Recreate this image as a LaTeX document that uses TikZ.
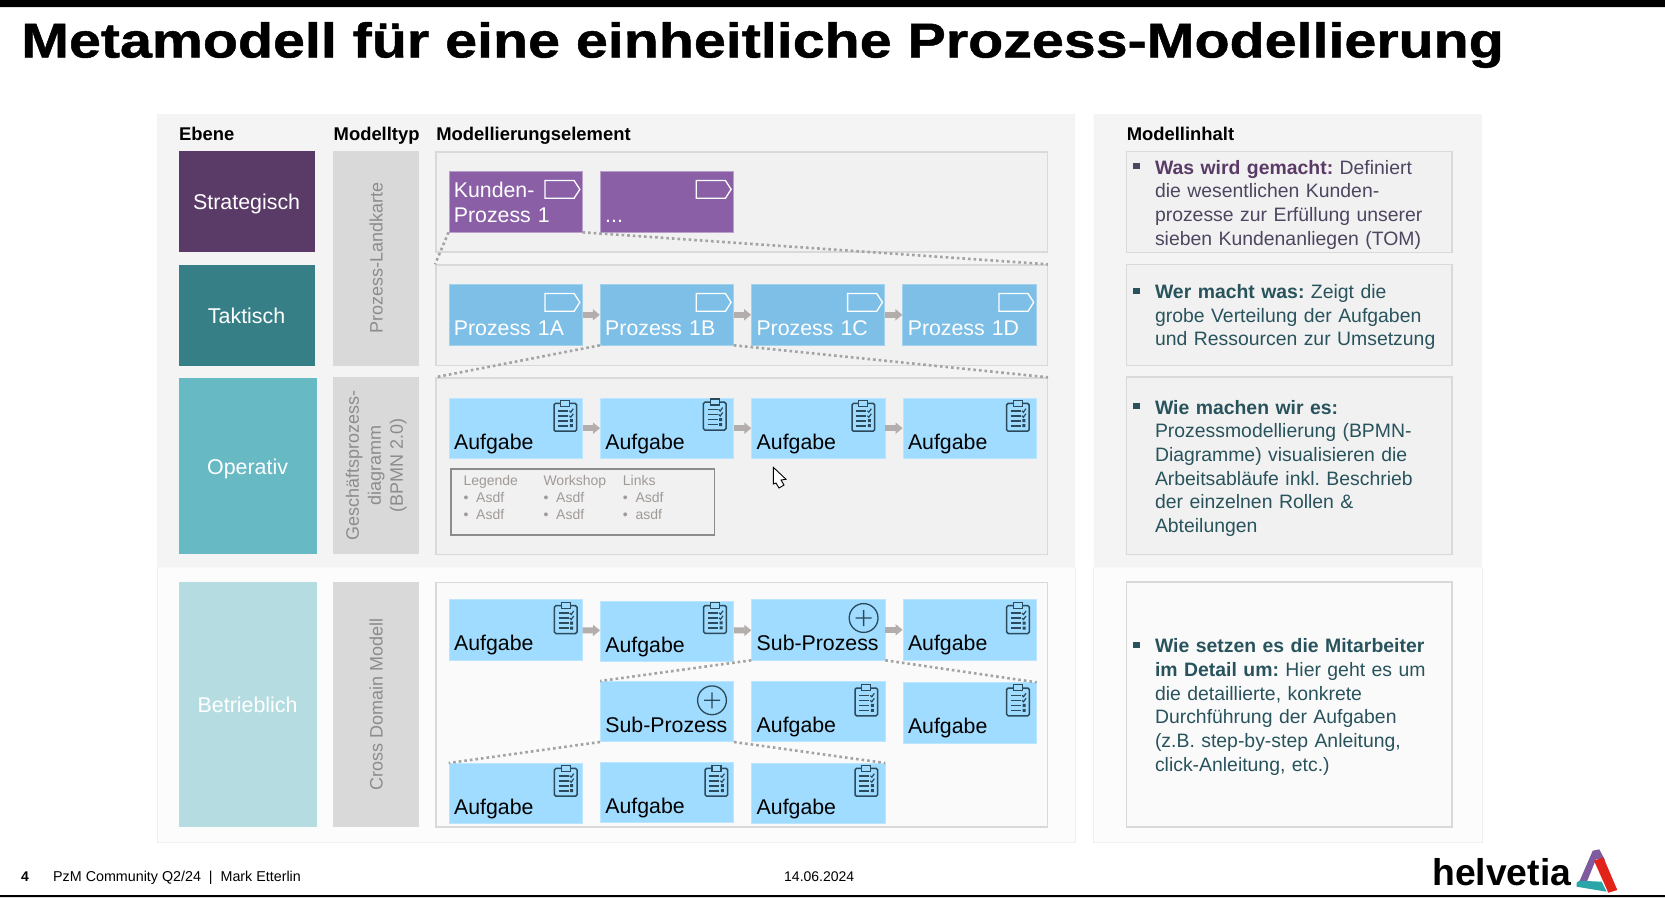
\documentclass[tikz,border=0pt]{standalone}
\usepackage{fontspec}
\setmainfont{Liberation Sans}
\newfontfamily\ttlfont[FakeStretch=1.171, FakeBold=1]{Liberation Sans}
\usetikzlibrary{positioning, arrows.meta}
\definecolor{panelc}{HTML}{F4F4F4}
\definecolor{framec}{HTML}{F1F1F1}
\definecolor{lineC}{HTML}{D9D9D9}
\definecolor{stratc}{HTML}{5A3A66}
\definecolor{taktc}{HTML}{377F87}
\definecolor{opc}{HTML}{67B9C4}
\definecolor{betrc}{HTML}{B5DDE1}
\definecolor{kundc}{HTML}{8A5FA6}
\definecolor{prozc}{HTML}{7DBFE6}
\definecolor{taskc}{HTML}{9FDCFF}
\definecolor{iconc}{HTML}{2B4A5C}
\definecolor{txtP}{HTML}{4E4560}
\definecolor{txtT}{HTML}{28535C}
\definecolor{flowc}{HTML}{B3AEAB}
\definecolor{lgc}{HTML}{A09A97}
\definecolor{logoP}{HTML}{7F5A9E}
\definecolor{logoT}{HTML}{2AA5A8}
\definecolor{logoR}{HTML}{E2231A}
\frenchspacing
\newcommand{\fs}[2]{\fontsize{#1}{#2}\selectfont}
\newcommand{\bul}{\llap{\raisebox{4.7pt}{\rule{6.8pt}{6pt}}\hspace{15.5pt}}}
\newcommand{\lgi}[1]{\makebox[12.7pt][l]{•}#1}

\begin{document}
\begin{tikzpicture}[x=1pt, y=-1pt, node distance=17.3pt,
	hdr/.style={anchor=base west, inner sep=0pt, font=\fs{18.4}{21}\bfseries},
	lvl/.style={anchor=north west, minimum width=136pt, inner sep=0pt, text=white, text height=16.5pt, text depth=0pt, font=\fs{21.4}{25}},
	typ/.style={fill=lineC, rotate=90, minimum height=86.3pt, inner sep=0pt, text=black!45, align=center, font=\fs{18}{22}},
	frm/.style={anchor=north west, draw=lineC, fill=framec, line width=1.5pt, inner sep=0pt},
	elt/.style={minimum width=133.2pt, minimum height=60.2pt, inner xsep=5pt, inner ysep=0pt, text width=123.2pt, align=left, text height=51.2pt, text depth=9pt, font=\fs{21.3}{25}},
	kund/.style={elt, fill=kundc, draw=kundc!60!white, line width=.8pt, text=white},
	proz/.style={elt, fill=prozc, draw=prozc!70!white, line width=.8pt, text=white},
	task/.style={elt, fill=taskc, draw=taskc!70!white, line width=.8pt, text=black},
	flow/.style={draw=flowc, line width=6pt, -{Triangle[length=7pt, width=11pt]}},
	zoomln/.style={draw=black!36, line width=2.6pt, dash pattern=on 2.6pt off 3pt},
	infotx/.style={anchor=base west, inner sep=0pt, text width=295pt, align=left, font=\fs{19.4}{23.7}},
	lgtx/.style={anchor=base west, inner sep=0pt, text width=76pt, align=left, text=lgc, font=\fs{14}{17}},
	foot/.style={anchor=base west, inner sep=0pt, font=\fs{14.3}{17}},
	prcicon/.pic={\draw[white, line width=1.3pt] (-37.5,9.2) -- (-8.4,9.2) -- (-2.7,18) -- (-8.4,27) -- (-37.5,27) -- cycle;},
	plusicon/.pic={\draw[iconc, line width=1.3pt] (0,0) circle (14.4pt) (-8,0) -- (8,0) (0,-8) -- (0,8);},
	cbicon/.pic={\draw[iconc, line width=1.5pt, rounded corners=1.5pt] (-11.3,-12.3) rectangle (11.3,15.5);
		\draw[iconc, fill=taskc, line width=1.3pt] (-4.5,-15.5) rectangle (4.5,-9.5);
		\draw[iconc, line width=1.6pt] (-7,-5) -- (3,-5) (-7,0) -- (3,0) (-7,5) -- (3,5) (-7,10) -- (3,10);
		\draw[iconc, line width=1.2pt] (4,-5) -- (5.5,-3.5) -- (8,-7) (4,0) -- (5.5,1.5) -- (8,-2);
		\fill[iconc] (4.5,3.5) rectangle (7.5,6.5) (4.5,8.5) rectangle (7.5,11.5);}]
	\useasboundingbox (0,0) rectangle (1665,897);
	\fill[black] (0,0) rectangle (1665,7) (0,895) rectangle (1665,897);
	\node[anchor=base west, inner sep=0pt, font=\fs{49}{55}\ttlfont\bfseries] (title) at (21,57.5) {Metamodell für eine einheitliche Prozess-Modellierung};
	\fill[panelc] (157,114) rectangle (1075,567.5) (1093.6,114) rectangle (1481.8,567.5);
	\draw[black!6, fill=black!1] (157,567.5) -- (157,841.7) -- (1075,841.7) -- (1075,567.5);
	\draw[black!6, fill=black!1] (1093.6,567.5) -- (1093.6,841.7) -- (1481.8,841.7) -- (1481.8,567.5);
	\node[hdr] (hE) at (179,140) {Ebene};
	\node[hdr] (hT) at (333.5,140) {Modelltyp};
	\node[hdr] (hM) at (436.2,140) {Modellierungselement};
	\node[hdr] (hI) at (1126.6,140) {Modellinhalt};
	\node[lvl, fill=stratc, minimum height=101pt] (Ls) at (178.4,151) {Strategisch};
	\node[lvl, fill=taktc, minimum height=101.4pt] (Lt) at (178.4,264.3) {Taktisch};
	\node[lvl, fill=opc, minimum width=138pt, minimum height=176.7pt] (Lo) at (178.4,377.3) {Operativ};
	\node[lvl, fill=betrc, minimum width=138pt, minimum height=245pt] (Lb) at (178.4,581.7) {Betrieblich};
	\node[typ, minimum width=214.7pt] (Ta) at (376.2,258.3) {Prozess-Landkarte};
	\node[typ, minimum width=176.7pt] (Tb) at (376.2,465.6) {Geschäftsprozess-\\diagramm\\(BPMN 2.0)};
	\node[typ, minimum width=245pt] (Tc) at (376.2,704.2) {Cross Domain Modell};
	\node[frm, minimum width=611.5pt, minimum height=100pt] (Fs) at (435,151) {};
	\node[frm, minimum width=611.5pt, minimum height=100.5pt] (Ft) at (435,264.3) {};
	\node[frm, minimum width=611.5pt, minimum height=176.5pt] (Fo) at (435,377.3) {};
	\node[frm, fill=black!2, minimum width=611.5pt, minimum height=244.5pt] (Fb) at (435,581.7) {};
	\node[kund, anchor=north west, text height=25.9pt, text depth=34.3pt] (K1) at (448.5,171.3) {Kunden-\\Prozess 1};
	\node[kund, right=of K1] (K2) {...};
	\node[proz, anchor=north west] (P1) at (448.5,284.3) {Prozess 1A};
	\node[proz, right=of P1] (P2) {Prozess 1B};
	\node[proz, right=of P2] (P3) {Prozess 1C};
	\node[proz, right=of P3] (P4) {Prozess 1D};
	\node[task, anchor=north west] (C1) at (448.7,397.7) {Aufgabe};
	\node[task, right=of C1] (C2) {Aufgabe};
	\node[task, right=of C2] (C3) {Aufgabe};
	\node[task, right=of C3] (C4) {Aufgabe};
	\node[task, anchor=north west] (D1) at (448.7,599.3) {Aufgabe};
	\node[task, right=of D1, yshift=-1.2pt] (D2) {Aufgabe};
	\node[task, right=of D2, yshift=1.2pt] (D3) {Sub-Prozess};
	\node[task, right=of D3] (D4) {Aufgabe};
	\node[task, anchor=north west] (E2) at (600,681) {Sub-Prozess};
	\node[task, right=of E2] (E3) {Aufgabe};
	\node[task, right=of E3, yshift=-1.3pt] (E4) {Aufgabe};
	\node[task, anchor=north west] (F1) at (448.7,763) {Aufgabe};
	\node[task, right=of F1, yshift=1pt] (F2) {Aufgabe};
	\node[task, right=of F2, yshift=-1pt] (F3) {Aufgabe};
	\foreach \n in {K1,K2,P1,P2,P3,P4} \pic at (\n.north east) {prcicon};
	\foreach \n/\d/\e in {C1/17.4/18, C2/19.3/16.8, C3/22/18, C4/18.7/18, D1/17/18.7, D2/19/17.3, D4/18.6/18.7, E3/19/19.3, E4/18.6/18, F1/17/17.7, F2/17.6/18.7, F3/19/17.7}
		\pic at ([shift={(-\d,\e)}]\n.north east) {cbicon};
	\pic at ([shift={(-21.7,18.7)}]D3.north east) {plusicon};
	\pic at ([shift={(-22,19.3)}]E2.north east) {plusicon};
	\foreach \a/\b in {P1/P2, P2/P3, P3/P4, C1/C2, C2/C3, C3/C4, D1/D2, D2/D3, D3/D4}
		\draw[flow] (\a) -- (\b);
	\foreach \a/\b in {K1.south west/Ft.north west, K1.south east/Ft.north east, P2.south west/Fo.north west, P2.south east/Fo.north east, D3.south west/E2.north west, D3.south east/E4.north east, E2.south west/F1.north west, E2.south east/F3.north east}
		\draw[zoomln] (\a) -- (\b);
	\node[anchor=north west, draw=black!45, line width=1.8pt, minimum width=263.5pt, minimum height=66.5pt, inner sep=0pt] (lgnd) at (450,467.7) {};
	\node[lgtx] (La) at (463.3,485) {Legende\\\lgi{Asdf}\\\lgi{Asdf}};
	\node[lgtx] (Lc) at (543.3,485) {Workshop\\\lgi{Asdf}\\\lgi{Asdf}};
	\node[lgtx] (Ld) at (622.7,485) {Links\\\lgi{Asdf}\\\lgi{asdf}};
	\node[frm, minimum width=325.5pt, minimum height=101pt] (M1) at (1125.5,150.7) {};
	\node[frm, minimum width=325.5pt, minimum height=101pt] (M2) at (1125.5,263.7) {};
	\node[frm, minimum width=325.5pt, minimum height=177.5pt] (M3) at (1125.5,376.3) {};
	\node[frm, fill=black!2, minimum width=325.5pt, minimum height=245pt] (M4) at (1125.5,581) {};
	\node[infotx, text=txtP] (I1) at (1154.8,174) {\bul\textbf{\color{stratc}Was wird gemacht:} Definiert\\die wesentlichen Kunden-\\prozesse zur Erfüllung unserer\\sieben Kundenanliegen (TOM)};
	\node[infotx, text=txtT] (I2) at (1154.8,298.3) {\bul\textbf{Wer macht was:} Zeigt die\\grobe Verteilung der Aufgaben\\und Ressourcen zur Umsetzung};
	\node[infotx, text=txtT] (I3) at (1154.8,414) {\bul\textbf{Wie machen wir es:}\\Prozessmodellierung (BPMN-\\Diagramme) visualisieren die\\Arbeitsabläufe inkl. Beschrieb\\der einzelnen Rollen \&\\Abteilungen};
	\node[infotx, text=txtT] (I4) at (1154.8,652.7) {\bul\textbf{Wie setzen es die Mitarbeiter}\\\textbf{im Detail um:} Hier geht es um\\die detaillierte, konkrete\\Durchführung der Aufgaben\\(z.B. step-by-step Anleitung,\\click-Anleitung, etc.)};
	\node[foot, font=\fs{14}{17}\bfseries] (pg) at (21,881.7) {4};
	\node[foot] (ft) at (53,881.7) {PzM Community Q2/24\ \ |\ \ Mark Etterlin};
	\node[foot, font=\fs{14}{17}] (dt) at (784,881.7) {14.06.2024};
	\node[anchor=base west, inner sep=0pt, font=\fs{37.3}{40}\bfseries] (logo) at (1432,885.7) {helvetia};
	\fill[logoP] (1579.3,881.7) -- (1592.7,850.7) -- (1599.3,849.3) -- (1605,860) -- (1596,859.3) -- (1587.3,880.7) -- cycle;
	\fill[logoT] (1576.7,882.7) -- (1579.3,880.7) -- (1601.7,881.7) -- (1606.7,891.7) -- (1576.7,886.7) -- cycle;
	\fill[logoR] (1594,860.7) -- (1603.3,857.3) -- (1617.3,890) -- (1608.3,892.7) -- cycle;
	\draw[black, fill=white, line width=.9pt] (773.3,467.3) -- (786,479.3) -- (781,480) -- (784,485) -- (779,488) -- (776,483) -- (773.3,484) -- cycle;
\end{tikzpicture}
\end{document}
